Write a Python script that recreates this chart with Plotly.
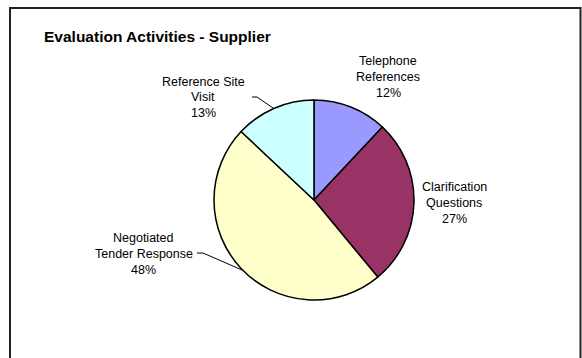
import plotly.graph_objects as go

W, H = 582, 358

# ---- data ----
categories = ["Telephone References", "Clarification Questions",
              "Negotiated Tender Response", "Reference Site Visit"]
label_lines = [["Telephone", "References"], ["Clarification", "Questions"],
               ["Negotiated", "Tender Response"], ["Reference Site", "Visit"]]
values = [12, 27, 48, 13]
colors = ["#9999FF", "#993366", "#FFFFCC", "#CCFFFF"]
title = "Evaluation Activities - Supplier"

# ---- layout helpers (pixel -> paper) ----
def px(x):
    return x / W

def py(y):
    return 1 - y / H

cx, cy, r = 314, 200, 100

fig = go.Figure()
fig.add_trace(go.Pie(
    labels=categories, values=values, sort=False, direction="clockwise",
    rotation=0, textinfo="none", hoverinfo="label+percent",
    marker=dict(colors=colors, line=dict(color="black", width=1.5)),
    domain=dict(x=[px(cx - r), px(cx + r)], y=[py(cy + r), py(cy - r)]),
    showlegend=False,
))

# label positions (x center, y of first line) in pixels
label_pos_by_cat = {0: (388, 61), 1: (454, 186.5), 3: (203, 81.5), 2: (143.5, 237.5)}
line_gap = 16

annotations = []
for i, name in enumerate(categories):
    lx, ly = label_pos_by_cat[i]
    lines = label_lines[i] + [f"{values[i]}%"]
    for k, t in enumerate(lines):
        annotations.append(dict(
            x=px(lx), y=py(ly + k * line_gap), xref="paper", yref="paper",
            text=t, showarrow=False, xanchor="center", yanchor="middle",
            font=dict(family="Liberation Sans", size=12.5, color="black")))

annotations.append(dict(
    x=px(42), y=py(36.5), xref="paper", yref="paper", text=f"<b>{title}</b>",
    showarrow=False, xanchor="left", yanchor="middle",
    font=dict(family="Liberation Sans", size=15.5, color="black")))

def path(points):
    s = "M " + " L ".join(f"{px(x)},{py(y)}" for x, y in points)
    return s

shapes = [
    # frame
    dict(type="rect", xref="paper", yref="paper", x0=px(10), x1=px(580.5),
         y0=py(420), y1=py(8), line=dict(color="#222222", width=2),
         fillcolor="rgba(0,0,0,0)"),
    # leader lines
    dict(type="path", xref="paper", yref="paper",
         path=path([(252, 97), (257, 97), (273, 108)]),
         line=dict(color="black", width=1)),
    dict(type="path", xref="paper", yref="paper",
         path=path([(197, 253), (203, 253), (242, 270)]),
         line=dict(color="black", width=1)),
]

fig.update_layout(
    width=W, height=H, margin=dict(l=0, r=0, t=0, b=0),
    paper_bgcolor="white", plot_bgcolor="white",
    annotations=annotations, shapes=shapes,
)

fig.write_html("out.html")
